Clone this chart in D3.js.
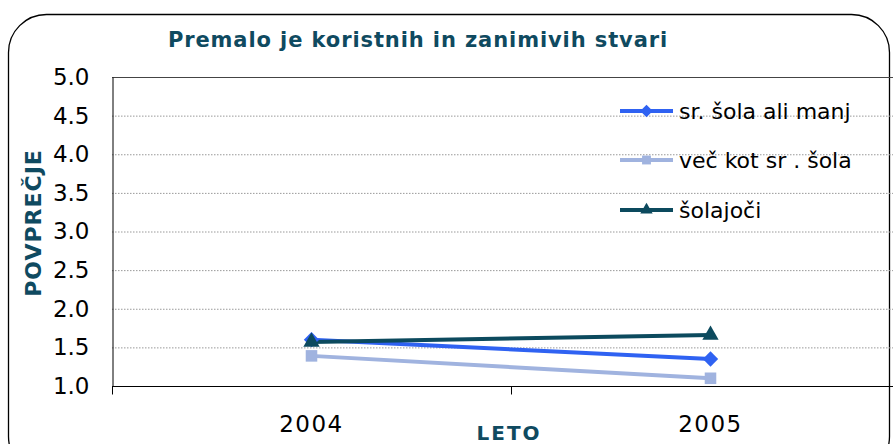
<!DOCTYPE html>
<html>
<head>
<meta charset="utf-8">
<script src="https://cdn.jsdelivr.net/npm/d3@7"></script>
<style>
  html, body { margin: 0; padding: 0; background: #fff; }
  svg { display: block; }
  text { font-family: Verdana, "DejaVu Sans", sans-serif; }
</style>
</head>
<body>
<svg id="chart" width="893" height="444"></svg>
<script>
// Survey averages by year
const years = ["2004", "2005"];
const srSolaAliManj = [1.6, 1.35];
const vecKotSrSola = [1.39, 1.1];
const solajoci = [1.57, 1.66];
const seriesNames = ["sr. šola ali manj", "več kot sr . šola", "šolajoči"];
const yTicks = [1.0, 1.5, 2.0, 2.5, 3.0, 3.5, 4.0, 4.5, 5.0];

const colors = ["#2f62f2", "#a0b3df", "#0c4a5e"];
const symbols = [d3.symbolDiamond2, d3.symbolSquare2, d3.symbolTriangle2];
const series = [srSolaAliManj, vecKotSrSola, solajoci].map((vals, i) => ({
  name: seriesNames[i], color: colors[i], symbol: symbols[i],
  values: vals.map((v, j) => ({ year: years[j], value: v }))
}));

const svg = d3.select("#chart");
const teal = "#0f4a60";

// Rounded outer frame
svg.append("rect")
  .attr("x", 8.5).attr("y", 14.5)
  .attr("width", 881).attr("height", 460)
  .attr("rx", 38).attr("ry", 38)
  .attr("fill", "#fff").attr("stroke", "#000").attr("stroke-width", 1.3);

// Plot area
const plot = { left: 112, top: 77, right: 910, bottom: 386 };

const x = d3.scaleBand().domain(years).range([plot.left, plot.right]);
const y = d3.scaleLinear().domain([1, 5]).range([plot.bottom, plot.top]);

// Title
svg.append("text")
  .attr("x", 418).attr("y", 47)
  .attr("text-anchor", "middle")
  .attr("font-weight", "bold").attr("font-size", 21)
  .attr("letter-spacing", 0.9)
  .attr("fill", teal)
  .text("Premalo je koristnih in zanimivih stvari");

// Dotted gridlines
svg.append("g")
  .selectAll("line")
  .data(yTicks.filter(t => t > 1 && t < 5))
  .join("line")
  .attr("x1", plot.left).attr("x2", plot.right)
  .attr("y1", d => y(d) + 0.5).attr("y2", d => y(d) + 0.5)
  .attr("stroke", "#999").attr("stroke-width", 1)
  .attr("stroke-dasharray", "1.5,1.5");

// Top border of plot area
svg.append("line")
  .attr("x1", plot.left).attr("x2", plot.right)
  .attr("y1", y(5) + 0.5).attr("y2", y(5) + 0.5)
  .attr("stroke", "#444").attr("stroke-width", 1);

// Y axis
const yAxis = svg.append("g")
  .attr("transform", `translate(${plot.left + 0.5},0)`)
  .call(d3.axisLeft(y).tickValues(yTicks).tickFormat(d3.format(".1f")).tickSize(0).tickPadding(23));
yAxis.select(".domain").attr("stroke", "#000");
yAxis.selectAll("text")
  .attr("font-size", 23).attr("fill", "#000")
  .attr("font-family", "Verdana, 'DejaVu Sans', sans-serif");

// X axis with category boundary ticks
const xAxis = svg.append("g")
  .attr("transform", `translate(0,${plot.bottom + 0.5})`);
xAxis.append("line")
  .attr("x1", plot.left).attr("x2", plot.right)
  .attr("stroke", "#000").attr("stroke-width", 1.2);
const bounds = years.map(d => x(d)).concat([x(years[years.length - 1]) + x.bandwidth()]);
xAxis.selectAll("line.tick")
  .data(bounds)
  .join("line").attr("class", "tick")
  .attr("x1", d => Math.round(d) + 0.5).attr("x2", d => Math.round(d) + 0.5)
  .attr("y1", 0).attr("y2", 8)
  .attr("stroke", "#000");
xAxis.selectAll("text")
  .data(years)
  .join("text")
  .attr("x", d => x(d) + x.bandwidth() / 2)
  .attr("y", 45)
  .attr("text-anchor", "middle")
  .attr("font-size", 23).attr("letter-spacing", 1.5).attr("fill", "#000")
  .text(d => d);

// Axis titles
svg.append("text")
  .attr("transform", "translate(41,223) rotate(-90)")
  .attr("text-anchor", "middle")
  .attr("font-weight", "bold").attr("font-size", 22)
  .attr("letter-spacing", 1)
  .attr("fill", teal)
  .text("POVPREČJE");
svg.append("text")
  .attr("x", 509).attr("y", 440)
  .attr("text-anchor", "middle")
  .attr("font-weight", "bold").attr("font-size", 20)
  .attr("letter-spacing", 2)
  .attr("fill", teal)
  .text("LETO");

// Lines and markers
const line = d3.line()
  .x(d => x(d.year) + x.bandwidth() / 2)
  .y(d => y(d.value));

const drawOrder = [1, 0, 2];
drawOrder.forEach(i => {
  const s = series[i];
  svg.append("path")
    .datum(s.values)
    .attr("d", line)
    .attr("fill", "none")
    .attr("stroke", s.color)
    .attr("stroke-width", 4);
});
drawOrder.forEach(i => {
  const s = series[i];
  const size = i === 2 ? 190 : (i === 1 ? 170 : 150);
  svg.append("g")
    .selectAll("path")
    .data(s.values)
    .join("path")
    .attr("transform", d => `translate(${x(d.year) + x.bandwidth() / 2},${y(d.value)})`)
    .attr("d", d3.symbol().type(s.symbol).size(size))
    .attr("fill", s.color);
});

// Legend
const legend = svg.append("g");
const legendY = [111, 160, 210];
series.forEach((s, i) => {
  const g = legend.append("g").attr("transform", `translate(620,${legendY[i]})`);
  g.append("line")
    .attr("x1", 0).attr("x2", 53)
    .attr("stroke", s.color).attr("stroke-width", 4);
  g.append("path")
    .attr("transform", "translate(26.5,0)")
    .attr("d", d3.symbol().type(s.symbol).size(i === 2 ? 110 : 100))
    .attr("fill", s.color);
  g.append("text")
    .attr("x", 59).attr("y", 0)
    .attr("dy", "0.35em")
    .attr("font-size", 22).attr("fill", "#000")
    .text(s.name);
});
</script>
</body>
</html>
